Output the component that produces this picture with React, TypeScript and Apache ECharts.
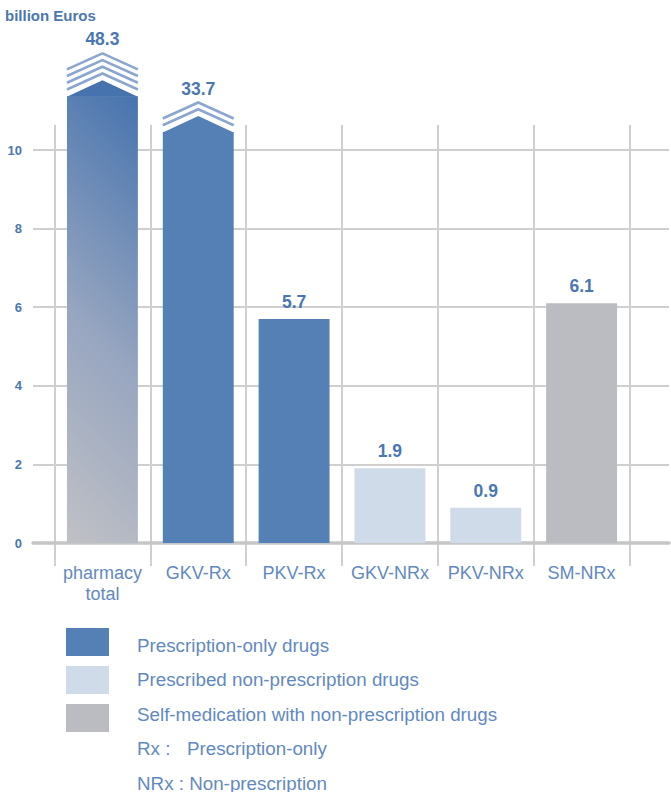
import React, { useEffect, useRef } from "react";
import * as echarts from "echarts";

// ---- data ----
const categories = ["pharmacy\ntotal", "GKV-Rx", "PKV-Rx", "GKV-NRx", "PKV-NRx", "SM-NRx"];
const values = [48.3, 33.7, 5.7, 1.9, 0.9, 6.1];
const groups = ["total", "rx", "rx", "nrx", "nrx", "sm"];
// axis value where an off-scale bar is cut, and number of break stripes
const breakAt: (number | null)[] = [11.37, 10.46, null, null, null, null];
const breakStripes = [4, 2, 0, 0, 0, 0];
const yMin = 0;
const yMax = 10;
const yInterval = 2;
const unitTitle = "billion Euros";
const legendLabels = [
  "Prescription-only drugs",
  "Prescribed non-prescription drugs",
  "Self-medication with non-prescription drugs",
];
const legendGroups = ["rx", "nrx", "sm"];
const abbreviations = [
  ["Rx :", "Prescription-only"],
  ["NRx : Non-prescription", ""],
];

// ---- styles ----
const FONT = "'Liberation Sans', Arial, Helvetica, sans-serif";
const BLUE_TEXT = "#4a77b1";
const LIGHT_TEXT = "#6289bf";
const GRID_COLOR = "#cfcfcf";
const groupColor: Record<string, string> = {
  rx: "#5580b5",
  nrx: "#d0dbea",
  sm: "#bbbcc1",
  total: "#4673ae",
};
const STRIPE = "#8ba6cf";

export default function App() {
  const ref = useRef<HTMLDivElement>(null);

  useEffect(() => {
    if (!ref.current) return;
    const chart = echarts.init(ref.current, null, { renderer: "svg" });

    const renderItem = (params: any, api: any) => {
      const idx = params.dataIndex;
      const i = api.value(0);
      const v = api.value(1);
      const cap = breakAt[idx];
      const shown = cap != null ? cap : v;
      const base = api.coord([i, 0]);
      const top = api.coord([i, shown]);
      const bandW = api.size([1, 0])[0];
      const w = bandW * 0.74;
      const cx = base[0];
      const x0 = cx - w / 2;
      const x1 = cx + w / 2;
      const h = base[1] - top[1];
      let fill: any = groupColor[groups[idx]];
      if (groups[idx] === "total") {
        const d = (w + h) / 2;
        fill = new echarts.graphic.LinearGradient(
          x0,
          base[1],
          x0 + d,
          base[1] - d,
          [
            { offset: 0, color: "#c0c1c5" },
            { offset: 0.45, color: "#98a6c0" },
            { offset: 1, color: "#4673ae" },
          ],
          true
        );
      }
      const children: any[] = [
        { type: "rect", shape: { x: x0, y: top[1], width: w, height: h }, style: { fill } },
      ];
      let labelY = top[1] - 17;
      if (cap != null) {
        const rise = 16;
        const peak = top[1] - rise;
        const peakColor = groups[idx] === "total" ? groupColor.total : groupColor[groups[idx]];
        children.push({
          type: "polygon",
          shape: { points: [[x0, top[1] + 0.5], [cx, peak], [x1, top[1] + 0.5]] },
          style: { fill: peakColor },
        });
        const n = breakStripes[idx];
        for (let k = 1; k <= n; k++) {
          const py = peak - 6.7 * k;
          children.push({
            type: "polyline",
            shape: { points: [[x0, py + rise], [cx, py], [x1, py + rise]] },
            style: { stroke: STRIPE, lineWidth: 2.6, fill: null },
          });
        }
        labelY = peak - 6.7 * n - 14;
      }
      children.push({
        type: "text",
        style: {
          text: v.toFixed(1),
          x: cx,
          y: labelY,
          align: "center",
          verticalAlign: "middle",
          fontSize: 17.5,
          fontWeight: "bold",
          fontFamily: FONT,
          fill: BLUE_TEXT,
        },
      });
      return { type: "group", children };
    };

    const graphics: any[] = [
      {
        type: "text",
        left: 5,
        top: 8,
        style: {
          text: unitTitle,
          fontSize: 15,
          fontWeight: "bold",
          fontFamily: FONT,
          fill: BLUE_TEXT,
        },
      },
    ];
    const LEGEND_FS = 18.8;
    legendLabels.forEach((lab, k) => {
      graphics.push({
        type: "rect",
        shape: { x: 66, y: 628 + 38 * k, width: 43, height: 28 },
        style: { fill: groupColor[legendGroups[k]] },
      });
      graphics.push({
        type: "text",
        x: 137,
        y: 645 + 34.5 * k,
        style: {
          text: lab,
          fontSize: LEGEND_FS,
          fontFamily: FONT,
          fill: LIGHT_TEXT,
          verticalAlign: "middle",
        },
      });
    });
    abbreviations.forEach((pair, k) => {
      const y = 645 + 34.5 * (legendLabels.length + k);
      graphics.push({
        type: "text",
        x: 137,
        y,
        style: { text: pair[0], fontSize: LEGEND_FS, fontFamily: FONT, fill: LIGHT_TEXT, verticalAlign: "middle" },
      });
      if (pair[1]) {
        graphics.push({
          type: "text",
          x: 187,
          y,
          style: { text: pair[1], fontSize: LEGEND_FS, fontFamily: FONT, fill: LIGHT_TEXT, verticalAlign: "middle" },
        });
      }
    });

    chart.setOption({
      animation: false,
      textStyle: { fontFamily: FONT },
      grid: [
        // horizontal lines / y labels
        { left: 33, right: 2, top: 150, bottom: 249 },
        // vertical lines
        { left: 54.5, right: 41.5, top: 125, bottom: 226 },
        // bars
        { left: 54.5, right: 41.5, top: 150, bottom: 249 },
      ],
      xAxis: [
        {
          gridIndex: 0,
          type: "value",
          min: 0,
          max: 1,
          axisLabel: { show: false },
          axisTick: { show: false },
          splitLine: { show: false },
          axisLine: { show: true, lineStyle: { color: "#c6c6c6", width: 3.5 } },
        },
        {
          gridIndex: 1,
          type: "category",
          data: categories,
          axisLabel: { show: false },
          axisTick: { show: false, interval: 0 },
          axisLine: { show: false },
          splitLine: { show: true, interval: 0, lineStyle: { color: GRID_COLOR, width: 2 } },
        },
        {
          gridIndex: 2,
          type: "category",
          data: categories,
          axisTick: { show: false },
          axisLine: { show: false },
          axisLabel: {
            interval: 0,
            margin: 19,
            fontSize: 18,
            lineHeight: 21,
            color: LIGHT_TEXT,
            fontFamily: FONT,
          },
        },
      ],
      yAxis: [
        {
          gridIndex: 0,
          type: "value",
          min: yMin,
          max: yMax,
          interval: yInterval,
          axisLine: { show: false },
          axisTick: { show: false },
          axisLabel: {
            margin: 11,
            fontSize: 13,
            fontWeight: "bold",
            color: BLUE_TEXT,
            fontFamily: FONT,
          },
          splitLine: { show: true, lineStyle: { color: GRID_COLOR, width: 2 } },
        },
        { gridIndex: 1, type: "value", show: false, splitLine: { show: false } },
        {
          gridIndex: 2,
          type: "value",
          min: yMin,
          max: yMax,
          interval: yInterval,
          show: false,
          splitLine: { show: false },
        },
      ],
      series: [
        {
          type: "custom",
          xAxisIndex: 2,
          yAxisIndex: 2,
          clip: false,
          z: 5,
          renderItem,
          data: values.map((v, i) => [i, v]),
        },
      ],
      graphic: graphics,
    });

    return () => chart.dispose();
  }, []);

  return (
    <div
      ref={ref}
      style={{ position: "absolute", left: 0, top: 0, width: 671, height: 792, background: "#fff" }}
    />
  );
}
